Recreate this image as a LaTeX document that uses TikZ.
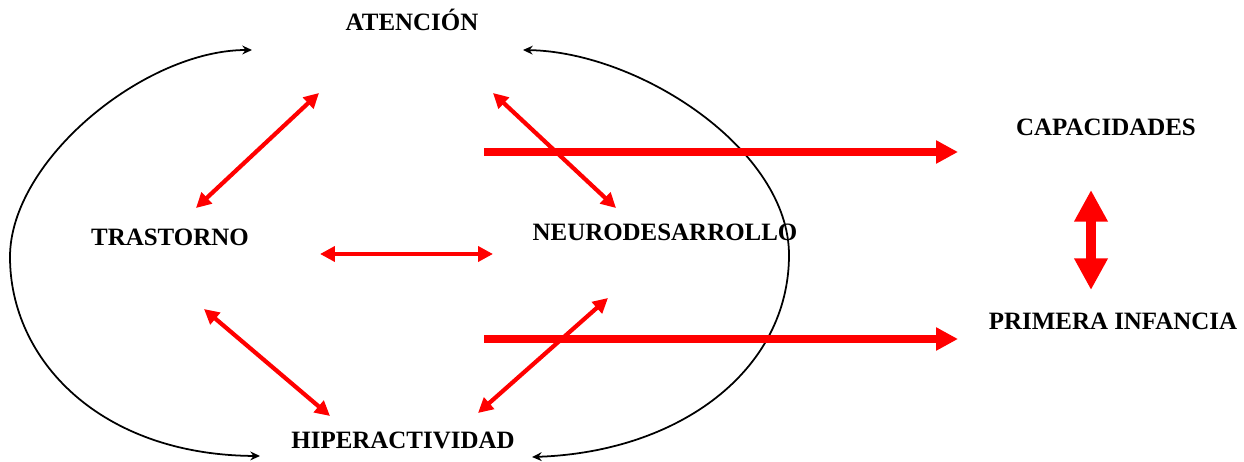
\documentclass[tikz,border=0pt]{standalone}
\usepackage{fontspec}
\setmainfont{Liberation Serif}
\usetikzlibrary{arrows.meta,calc,positioning}

\begin{document}
\begin{tikzpicture}[x=0.02cm, y=-0.02cm]
\tikzstyle{palabra} = [font=\fontsize{14.2}{17}\selectfont\bfseries, inner sep=2pt]
\tikzstyle{ciclo} = [{Stealth[length=5.5pt,width=5pt]}-{Stealth[length=5.5pt,width=5pt]},
  line width=1pt, draw=black]
\tikzstyle{relacion} = [{Triangle[length=8.5pt,width=8.5pt]}-{Triangle[length=8.5pt,width=8.5pt]},
  line width=2.4pt, draw=red]
\tikzstyle{flecha} = [-{Triangle[length=12.5pt,width=12.5pt]}, line width=4pt, draw=red]
\tikzstyle{doble} = [{Triangle[length=18pt,width=18pt]}-{Triangle[length=18pt,width=18pt]},
  line width=6.2pt, draw=red]

    \useasboundingbox (0,0) rectangle (1244,462);
    \node [palabra] (aten) at (412,20) {ATENCIÓN};
    \node [palabra] (tras) at (170,237) {TRASTORNO};
    \node [palabra] (neuro) at (665,232) {NEURODESARROLLO};
    \node [palabra] (hiper) at (403,440) {HIPERACTIVIDAD};
    \node [palabra] (capa) at (1106,127) {CAPACIDADES};
    \node [palabra] (prim) at (1113,321) {PRIMERA INFANCIA};
    \path [ciclo] ($(aten)+(-160,30)$) .. controls (145,50) and (10,160) .. (10,257)
      .. controls (10,360) and (100,455) .. ($(hiper)+(-143,16)$);
    \path [ciclo] ($(aten)+(111,30)$) .. controls (640,52) and (789,150) .. (789,255)
      .. controls (789,370) and (680,452) .. ($(hiper)+(129,17)$);
    \path [relacion] ($(tras)+(26,-29)$) -- ($(aten)+(-93,73)$);
    \path [relacion] ($(aten)+(81,73)$) -- ($(neuro)+(-49,-24)$);
    \path [relacion] ($(tras)+(150,17)$) -- ($(neuro)+(-172,22)$);
    \path [relacion] ($(tras)+(34,72)$) -- ($(hiper)+(-73,-24)$);
    \path [relacion] ($(hiper)+(75,-27)$) -- ($(neuro)+(-57,66)$);
    \path [flecha] ($(neuro)+(-181,-80)$) -- ($(capa)+(-148,25)$);
    \path [flecha] ($(neuro)+(-181,107)$) -- ($(prim)+(-155,18)$);
    \path [doble] ($(capa)+(-15,63)$) -- ($(prim)+(-22,-31)$);
\end{tikzpicture}
\end{document}
